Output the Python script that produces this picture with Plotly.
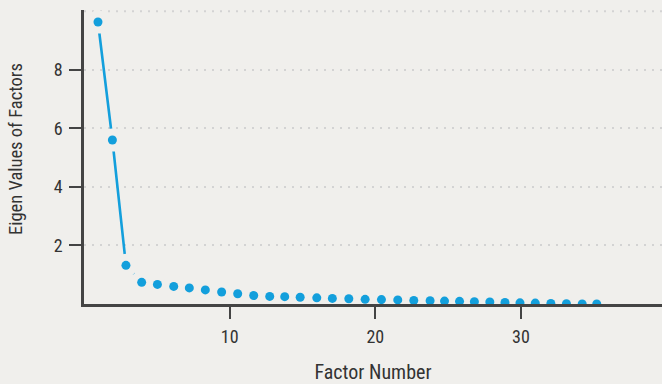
import plotly.graph_objects as go

# ---- data ----
factor_number = [0.96, 1.95, 2.88, 3.96, 5.04, 6.16, 7.23, 8.33, 9.45, 10.55,
                 11.65, 12.75, 13.78, 14.84, 15.98, 17.05, 18.18, 19.3, 20.42, 21.54,
                 22.64, 23.76, 24.75, 25.78, 26.8, 27.86, 28.9, 29.93, 30.98, 32.05,
                 33.12, 34.2, 35.2]
eigen_values = [9.63, 5.60, 1.32, 0.74, 0.67, 0.60, 0.55, 0.48, 0.41, 0.35,
                0.29, 0.26, 0.25, 0.23, 0.21, 0.19, 0.18, 0.16, 0.15, 0.14,
                0.12, 0.11, 0.10, 0.09, 0.08, 0.07, 0.05, 0.04, 0.03, 0.02,
                0.01, 0.0, 0.0]
x_tick_vals = [10, 20, 30]
y_tick_vals = [2, 4, 6, 8]
y_top_grid = 10
x_title = "Factor Number"
y_title = "Eigen Values of Factors"

BG = "#f0efec"
BLUE = "#139fdc"
AXIS = "#444444"
TEXT = "#333333"
GRID = "#d3d3d3"
FONT = "Liberation Sans Narrow, Roboto Condensed, Arial Narrow, sans-serif"

fig = go.Figure()
# connecting line
fig.add_trace(go.Scatter(x=factor_number, y=eigen_values, mode="lines",
                         line=dict(color=BLUE, width=2.6), hoverinfo="skip"))
# background-coloured halos so the line stops short of each point (R type="b")
fig.add_trace(go.Scatter(x=factor_number, y=eigen_values, mode="markers",
                         marker=dict(color=BG, size=23, line_width=0), hoverinfo="skip"))
# points
fig.add_trace(go.Scatter(x=factor_number, y=eigen_values, mode="markers",
                         marker=dict(color=BLUE, size=9, line_width=0)))

fig.add_shape(type="line", xref="paper", x0=0, x1=1, yref="y", y0=y_top_grid, y1=y_top_grid,
              line=dict(color=GRID, width=2, dash="2px,6px"), layer="below")

fig.add_annotation(text=y_title, textangle=-90, xref="paper", yref="paper",
                   x=(16 - 84) / 578, y=(304 - 149) / 294, xanchor="center", yanchor="middle",
                   showarrow=False, font=dict(size=18.5, color=TEXT, family=FONT))

fig.update_layout(
    width=662, height=384,
    margin=dict(l=84, r=0, t=10, b=80),
    paper_bgcolor=BG, plot_bgcolor=BG,
    showlegend=False,
    font=dict(family=FONT, color=TEXT, size=17),
    xaxis=dict(range=[0, 39.68], tickvals=x_tick_vals, ticks="outside", ticklen=12,
               tickwidth=2, tickcolor=AXIS, showline=True, linecolor=AXIS, linewidth=2.5,
               showgrid=False, zeroline=False, layer="above traces",
               ticklabelstandoff=3,
               tickfont=dict(size=18, color=TEXT),
               title=dict(text=x_title, font=dict(size=20, color=TEXT), standoff=20)),
    yaxis=dict(range=[0, 10.04], tickvals=y_tick_vals, ticks="outside", ticklen=12,
               tickwidth=2, tickcolor=AXIS, showline=True, linecolor=AXIS, linewidth=2.5,
               showgrid=True, gridcolor=GRID, gridwidth=2, griddash="2px,6px",
               zeroline=False, layer="above traces",
               ticklabelstandoff=3,
               tickfont=dict(size=18, color=TEXT)),
)

fig.write_html("out.html")
